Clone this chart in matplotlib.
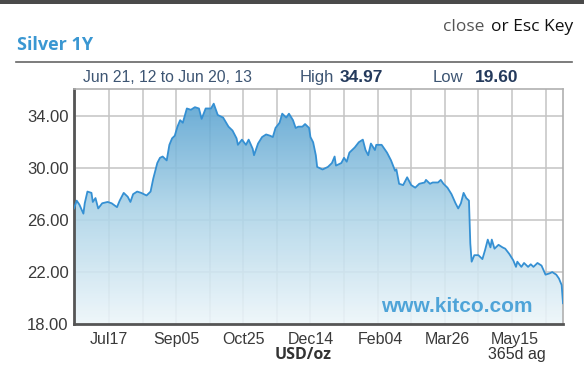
import matplotlib
matplotlib.use("Agg")
import matplotlib.pyplot as plt
import matplotlib.dates as mdates
import numpy as np
import pandas as pd
from matplotlib.colors import LinearSegmentedColormap
from matplotlib.patches import Polygon, Rectangle


# 数据：起始日期 + 天数偏移 + 价格（从图上读出来的）
START_DATE = "2012-06-21"
END_DATE = "2013-06-20"

day_offsets = [
    0, 2, 4, 7, 8, 10, 13, 14, 16, 18, 21, 25, 28, 32, 34, 37, 40, 42, 44, 47,
    50, 52, 54, 57, 59, 62, 64, 66, 69, 71, 73, 75, 77, 79, 81, 84, 87, 90, 93, 95,
    98, 102, 104, 107, 111, 115, 118, 121, 122, 125, 128, 130, 133, 134, 137, 140,
    143, 146, 148, 150, 153, 155, 158, 160, 163, 165, 167, 170, 172, 175, 176, 178,
    180, 181, 185, 189, 192, 194, 195, 199, 201, 203, 205, 209, 212, 215, 217, 219,
    221, 224, 225, 229, 231, 233, 236, 239, 240, 242, 245, 248, 251, 254, 257, 261,
    262, 265, 267, 271, 273, 275, 278, 281, 284, 286, 288, 290, 292, 294, 295, 296,
    298, 301, 304, 306, 308, 310, 311, 313, 316, 319, 321, 324, 327, 329, 330, 333,
    335, 338, 340, 342, 345, 348, 351, 354, 356, 359, 361, 363, 364,
]

prices = [
    26.9, 27.5, 27.2, 26.5, 27.3, 28.2, 28.1, 27.4, 27.7, 26.9, 27.3, 27.4, 27.3, 27.0, 27.5, 28.1, 27.8, 27.4, 28.0, 28.2,
    28.1, 28.0, 27.9, 28.2, 29.2, 30.4, 30.8, 30.9, 30.6, 31.8, 32.3, 32.5, 33.2, 33.7, 33.5, 34.6, 34.5, 34.7, 34.6, 33.8,
    34.6, 34.6, 34.97, 34.1, 33.9, 33.2, 32.9, 32.3, 31.8, 32.2, 31.8, 32.2, 31.5, 31.0, 31.9, 32.4,
    32.6, 32.5, 32.4, 33.1, 33.5, 34.2, 33.9, 34.2, 33.7, 33.1, 33.2, 33.2, 33.4, 33.1, 32.4, 32.0,
    31.0, 30.1, 29.9, 30.1, 30.4, 30.9, 30.2, 30.4, 30.8, 30.5, 31.2, 31.6, 32.0, 32.2, 31.4, 31.0,
    31.9, 31.4, 31.8, 31.8, 31.5, 31.2, 30.6, 29.8, 29.9, 28.8, 28.7, 29.3, 28.7, 28.5, 28.8, 28.9,
    29.1, 28.8, 28.9, 28.9, 29.1, 28.8, 28.5, 28.0, 27.3, 26.9, 27.3, 28.1, 27.7, 27.5, 24.2, 22.8,
    23.3, 23.3, 23.0, 23.7, 24.5, 23.9, 24.5, 23.8, 24.1, 23.9, 23.8, 23.4, 22.9, 22.4, 22.8, 22.4,
    22.7, 22.4, 22.6, 22.4, 22.7, 22.5, 21.8, 21.9, 22.0, 21.8, 21.5, 21.0, 19.6,
]

# 坐标轴刻度
y_ticks = [18, 22, 26, 30, 34]
x_tick_dates = ["2012-07-17", "2012-09-05", "2012-10-25", "2012-12-14",
                "2013-02-04", "2013-03-26", "2013-05-15"]
grid_step_days = 25

W, H = 584, 382


def px(x, y):
    # 像素坐标 -> figure 坐标
    return x / W, 1 - y / H


dates = pd.Timestamp(START_DATE) + pd.to_timedelta(day_offsets, unit="D")
x = mdates.date2num(dates.to_pydatetime())
y = np.array(prices)
x0 = mdates.date2num(pd.Timestamp(START_DATE))
x1 = mdates.date2num(pd.Timestamp(END_DATE))
y0, y1 = 18, 36.1

fig = plt.figure(figsize=(W / 100, H / 100), dpi=100)
fig.patch.set_facecolor("white")

# 顶部深色条
fig.patches.append(Rectangle((0, 1 - 4 / H), 1, 4 / H, transform=fig.transFigure,
                             facecolor="#4a4a4a", edgecolor="none"))

ax = fig.add_axes([74 / W, 1 - 324 / H, 489 / W, (324 - 89) / H])
ax.set_xlim(x0, x1)
ax.set_ylim(y0, y1)

# 网格
first_grid = mdates.date2num(pd.Timestamp(x_tick_dates[0])) - grid_step_days
for gx in np.arange(first_grid, x1, grid_step_days):
    ax.axvline(gx, color="#c4c4c4", lw=1.1, zorder=0.5)
for gy in y_ticks[1:]:
    ax.axhline(gy, color="#c4c4c4", lw=1.1, zorder=0.5)

# 渐变填充
cmap = LinearSegmentedColormap.from_list("kitco", ["#edf6fa", "#a9d2e7", "#4c9bcd"])
grad = np.linspace(0, 1, 256).reshape(-1, 1)
im = ax.imshow(grad, extent=[x0, x1, y0, y1], origin="lower", aspect="auto",
               cmap=cmap, alpha=0.88, zorder=1)
verts = [(x[0], y0)] + list(zip(x, y)) + [(x[-1], y0)]
clip = Polygon(verts, closed=True, facecolor="none", edgecolor="none")
ax.add_patch(clip)
im.set_clip_path(clip)

ax.plot(x, y, color="#3590d3", lw=1.3, zorder=3)

# 边框
for side in ["left", "bottom"]:
    ax.spines[side].set_color("#555555")
    ax.spines[side].set_linewidth(2)
for side in ["top", "right"]:
    ax.spines[side].set_color("#b0b0b0")
    ax.spines[side].set_linewidth(1.2)

ax.set_yticks(y_ticks)
ax.set_yticklabels([f"{v:.2f}" for v in y_ticks])
ax.set_xticks(mdates.date2num(pd.to_datetime(x_tick_dates).to_pydatetime()))
ax.xaxis.set_major_formatter(mdates.DateFormatter("%b%d"))
ax.tick_params(axis="both", length=0, colors="#3a3a3a")
ax.tick_params(axis="y", labelsize=12, pad=4)
ax.tick_params(axis="x", labelsize=11.5, pad=6)
for lab in ax.get_xticklabels() + ax.get_yticklabels():
    lab.set_fontfamily("Liberation Sans")

# 水印
ax.text(*px(533, 306), "www.kitco.com", transform=fig.transFigure, ha="right", va="center",
        fontsize=15, fontweight="bold", family="Liberation Sans", color="#4fa4d8", zorder=4)

# 标题区域
fig.text(*px(17, 45), "Silver 1Y", ha="left", va="center", fontsize=13,
         fontweight="bold", family="Open Sans", color="#3a97d2")
fig.text(*px(573, 27), "or Esc Key", ha="right", va="center", fontsize=12.5,
         family="Open Sans", color="#111111")
fig.text(*px(484, 27), "close", ha="right", va="center", fontsize=12.5,
         family="Open Sans", color="#555555")
fig.add_artist(plt.Line2D([16 / W, 572 / W], [1 - 62 / H] * 2, color="#666666", lw=1.2))

header_color = "#3d5573"
number_color = "#243a5c"
fig.text(*px(83, 77.5), "Jun 21, 12 to Jun 20, 13", ha="left", va="center", fontsize=11.3,
         family="Liberation Sans", color=header_color)
fig.text(*px(300, 77.5), "High", ha="left", va="center", fontsize=12,
         family="Liberation Sans", color=header_color)
fig.text(*px(340, 77.5), "34.97", ha="left", va="center", fontsize=12.5, fontweight="bold",
         family="Liberation Sans", color=number_color)
fig.text(*px(433, 77.5), "Low", ha="left", va="center", fontsize=12,
         family="Liberation Sans", color=header_color)
fig.text(*px(475, 77.5), "19.60", ha="left", va="center", fontsize=12.5, fontweight="bold",
         family="Liberation Sans", color=number_color)

# 底部文字
fig.text(*px(303, 355), "USD/oz", ha="center", va="center", fontsize=11.5,
         fontweight="bold", family="Open Sans", color="#333333")
fig.text(*px(488, 355), "365d ag", ha="left", va="center", fontsize=11.5,
         family="Liberation Sans", color="#333333")

fig.savefig("out.png", dpi=100)
